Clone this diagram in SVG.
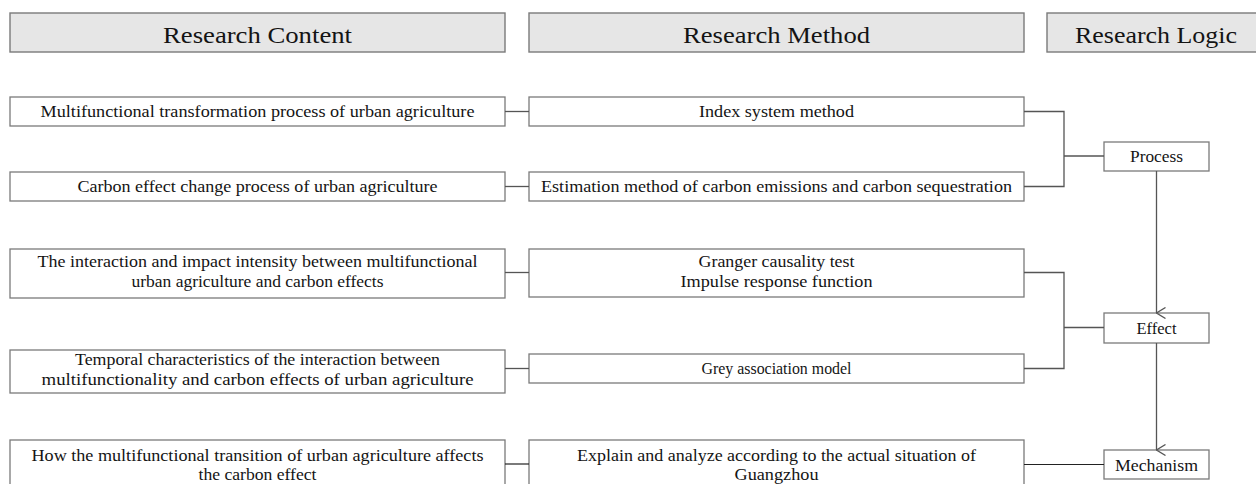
<svg xmlns="http://www.w3.org/2000/svg" width="1256" height="484" viewBox="0 0 1256 484">
<defs>
<style>
.hdr{fill:#e6e6e6;stroke:#7a7a7a;stroke-width:1.4}
.box{fill:#ffffff;stroke:#7a7a7a;stroke-width:1.3}
.ht{font-family:"Liberation Serif","DejaVu Serif",serif;font-size:24px;fill:#141414;text-anchor:middle}
.t{font-family:"Liberation Serif","DejaVu Serif",serif;font-size:16px;fill:#141414;text-anchor:middle}
.ln{fill:none;stroke:#555555;stroke-width:1.3}
.dk{fill:none;stroke:#222222;stroke-width:1.2}
</style>
<marker id="arr" viewBox="0 0 12 10" refX="6" refY="9.5" markerWidth="12" markerHeight="10" markerUnits="userSpaceOnUse" orient="auto-start-reverse">
<path d="M0.5,0.5 L6,9.5 L11.5,0.5" fill="none" stroke="#555555" stroke-width="1.3"/>
</marker>
</defs>
<rect width="1256" height="484" fill="#ffffff"/>

<g id="header-content"><rect class="hdr" x="10" y="13" width="495" height="39"/><text class="ht" x="257.5" y="43" textLength="189" lengthAdjust="spacingAndGlyphs">Research Content</text></g>
<g id="header-method"><rect class="hdr" x="529" y="13" width="495" height="39"/><text class="ht" x="776.5" y="43" textLength="187" lengthAdjust="spacingAndGlyphs">Research Method</text></g>
<g id="header-logic"><rect class="hdr" x="1047" y="13" width="219" height="39"/><text class="ht" x="1156" y="43" textLength="162" lengthAdjust="spacingAndGlyphs">Research Logic</text></g>

<g id="content1"><rect class="box" x="10" y="97" width="495" height="29"/><text class="t" x="257.5" y="117" textLength="434" lengthAdjust="spacingAndGlyphs">Multifunctional transformation process of urban agriculture</text></g>
<g id="content2"><rect class="box" x="10" y="172" width="495" height="29"/><text class="t" x="257.5" y="192" textLength="360" lengthAdjust="spacingAndGlyphs">Carbon effect change process of urban agriculture</text></g>
<g id="content3"><rect class="box" x="10" y="249" width="495" height="49"/><text class="t" x="257.5" y="267" textLength="440" lengthAdjust="spacingAndGlyphs">The interaction and impact intensity between multifunctional</text><text class="t" x="257.5" y="287" textLength="252" lengthAdjust="spacingAndGlyphs">urban agriculture and carbon effects</text></g>
<g id="content4"><rect class="box" x="10" y="350" width="495" height="43"/><text class="t" x="257.5" y="365" textLength="365" lengthAdjust="spacingAndGlyphs">Temporal characteristics of the interaction between</text><text class="t" x="257.5" y="385" textLength="432" lengthAdjust="spacingAndGlyphs">multifunctionality and carbon effects of urban agriculture</text></g>
<g id="content5"><rect class="box" x="10" y="440" width="495" height="50"/><text class="t" x="257.5" y="461" textLength="452" lengthAdjust="spacingAndGlyphs">How the multifunctional transition of urban agriculture affects</text><text class="t" x="257.5" y="480" textLength="118" lengthAdjust="spacingAndGlyphs">the carbon effect</text></g>

<g id="method1"><rect class="box" x="529" y="97" width="495" height="29"/><text class="t" x="776.5" y="117" textLength="155" lengthAdjust="spacingAndGlyphs">Index system method</text></g>
<g id="method2"><rect class="box" x="529" y="172" width="495" height="29"/><text class="t" x="776.5" y="192" textLength="471" lengthAdjust="spacingAndGlyphs">Estimation method of carbon emissions and carbon sequestration</text></g>
<g id="method3"><rect class="box" x="529" y="249" width="495" height="48"/><text class="t" x="776.5" y="267" textLength="156" lengthAdjust="spacingAndGlyphs">Granger causality test</text><text class="t" x="776.5" y="287" textLength="192" lengthAdjust="spacingAndGlyphs">Impulse response function</text></g>
<g id="method4"><rect class="box" x="529" y="354" width="495" height="29"/><text class="t" x="776.5" y="374" textLength="150" lengthAdjust="spacingAndGlyphs">Grey association model</text></g>
<g id="method5"><rect class="box" x="529" y="440" width="495" height="50"/><text class="t" x="776.5" y="461" textLength="399" lengthAdjust="spacingAndGlyphs">Explain and analyze according to the actual situation of</text><text class="t" x="776.5" y="480" textLength="84" lengthAdjust="spacingAndGlyphs">Guangzhou</text></g>

<g id="process"><rect class="box" x="1104" y="142" width="105" height="29"/><text class="t" x="1156.5" y="162" textLength="53" lengthAdjust="spacingAndGlyphs">Process</text></g>
<g id="effect"><rect class="box" x="1104" y="313" width="105" height="30"/><text class="t" x="1156.5" y="334" textLength="40" lengthAdjust="spacingAndGlyphs">Effect</text></g>
<g id="mechanism"><rect class="box" x="1104" y="450" width="105" height="29"/><text class="t" x="1156.5" y="471" textLength="83" lengthAdjust="spacingAndGlyphs">Mechanism</text></g>

<g id="connectors">
<path class="ln" d="M505,111.5 H529"/>
<path class="ln" d="M505,186.5 H529"/>
<path class="ln" d="M505,272.5 H529"/>
<path class="ln" d="M505,368.5 H529"/>
<path class="dk" d="M505,464 H529"/>
<path class="ln" d="M1024,111.5 H1064 V186.5 H1024"/>
<path class="ln" d="M1064,156 H1104"/>
<path class="ln" d="M1024,272.5 H1064 V368.5 H1024"/>
<path class="ln" d="M1064,327.5 H1104"/>
<path class="dk" d="M1024,464.5 H1104"/>
<path class="ln" d="M1156.5,171 V313" marker-end="url(#arr)"/>
<path class="ln" d="M1156.5,343 V450" marker-end="url(#arr)"/>
</g>
</svg>
